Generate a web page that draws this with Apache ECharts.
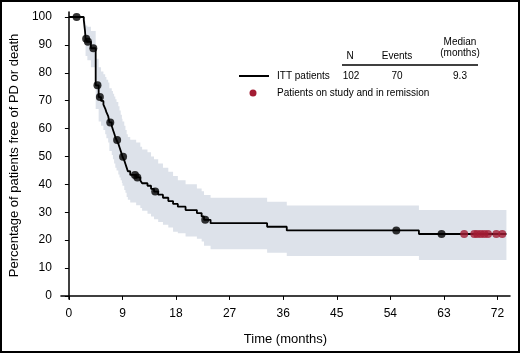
<!DOCTYPE html>
<html>
<head>
<meta charset="utf-8">
<script src="https://cdn.jsdelivr.net/npm/echarts@6/dist/echarts.min.js"></script>
<style>
  html, body { margin: 0; padding: 0; background: #fff; }
</style>
</head>
<body>
<div id="myChart1" style="width: 520px; height: 353px;"></div>
<script>
// Kaplan-Meier step points (months, % free of PD or death)
const months = [0, 2.5, 2.7, 2.8, 3.1, 3.7, 4.5, 5.0, 5.4, 5.8, 6.1, 6.3, 6.6, 6.8, 7.2, 7.4, 7.6, 7.8, 8.0, 8.3, 8.5, 8.7, 8.9, 9.0, 9.3, 9.5, 9.7, 9.9, 10.3, 11.3, 12.0, 12.3, 13.2, 13.8, 14.3, 15.0, 15.8, 16.7, 17.5, 18.3, 19.6, 21.5, 22.3, 22.7, 23.8, 33.3, 36.6, 58.8, 73.5];
const survival = [100, 99.0, 95.1, 92.2, 91.1, 88.8, 75.5, 71.3, 69.9, 68.6, 67.2, 65.9, 64.5, 62.2, 60.9, 59.6, 58.3, 57.0, 55.9, 54.6, 53.3, 52.0, 50.7, 49.9, 48.6, 47.3, 46.0, 44.7, 43.4, 42.5, 41.4, 40.4, 39.5, 38.4, 37.4, 36.3, 35.2, 34.0, 33.0, 32.0, 30.8, 29.7, 28.5, 27.3, 26.1, 24.8, 23.5, 22.2, 22.2];
// 95% CI band
const lowerCI = [100, 96, 90, 86, 84.5, 82, 67, 62.5, 61, 59.5, 58, 56.5, 55, 52, 50.5, 49, 47.5, 46, 45, 43.5, 42.5, 41.5, 40.5, 39.5, 38, 37, 35.5, 34.5, 33.5, 32.5, 31.5, 30.5, 29.5, 28.5, 27.5, 26.5, 25.5, 24.5, 23, 22.5, 21.3, 20.5, 19.5, 18, 16.7, 15.5, 14.3, 12.9, 12.9];
const upperCI = [100, 100, 98.5, 97, 96.5, 95, 85, 82, 80.5, 79.5, 78.5, 77.5, 76.5, 74.5, 73.5, 72.5, 71.5, 70.5, 69.5, 68, 66.5, 65, 63.5, 62.5, 61, 59.5, 58, 57, 56, 55, 53.5, 52.5, 51.5, 50, 49, 47.5, 46, 44.5, 43, 41.5, 40, 38.5, 37.5, 36.2, 35.2, 33.8, 32.4, 30.8, 30.8];
// censored patients
const censorMonths = [1.3, 2.9, 3.2, 4.1, 4.8, 5.2, 6.95, 8.1, 9.1, 11.1, 11.5, 14.5, 22.9, 55.0, 62.6];
const censorSurv = [100, 92.2, 91.1, 88.8, 75.5, 71.3, 62.2, 55.9, 49.9, 43.4, 42.5, 37.4, 27.3, 23.5, 22.2];
// patients on study and in remission
const remissionMonths = [66.4, 68.1, 68.6, 69.2, 69.8, 70.4, 71.8, 72.8];
const remissionSurv = [22.2, 22.2, 22.2, 22.2, 22.2, 22.2, 22.2, 22.2];
// ticks
const xTicks = [0, 9, 18, 27, 36, 45, 54, 63, 72];
const yTicks = [0, 10, 20, 30, 40, 50, 60, 70, 80, 90, 100];

const kmData = months.map((m, i) => [m, survival[i]]);
const bandData = months.map((m, i) => [m, lowerCI[i], upperCI[i]]);
const censorData = censorMonths.map((m, i) => [m, censorSurv[i]]);
const remissionData = remissionMonths.map((m, i) => [m, remissionSurv[i]]);

const font = "Liberation Sans, Arial, sans-serif";

// step polygon for the CI band, drawn once through the axis scales
function renderBand(params, api) {
  if (params.dataIndex !== 0) return;
  const top = [];
  const bottom = [];
  for (let i = 0; i < bandData.length; i++) {
    const t0 = bandData[i][0];
    const t1 = i < bandData.length - 1 ? bandData[i + 1][0] : t0;
    top.push(api.coord([t0, bandData[i][2]]), api.coord([t1, bandData[i][2]]));
    bottom.push(api.coord([t0, bandData[i][1]]), api.coord([t1, bandData[i][1]]));
  }
  return {
    type: "polygon",
    shape: { points: top.concat(bottom.reverse()) },
    style: { fill: "#dde2ea" },
    silent: true
  };
}

const myChart = echarts.init(document.getElementById("myChart1"));
const option = {
  animation: false,
  grid: {
    left: 58,
    right: 10,
    top: 12,
    bottom: 54
  },
  xAxis: {
    type: "value",
    min: -1.34,
    max: 74.1,
    name: "Time (months)",
    nameLocation: "middle",
    nameGap: 34,
    nameTextStyle: { fontFamily: font, fontSize: 13, color: "#000" },
    axisLine: { lineStyle: { color: "#000", width: 1.5 } },
    axisTick: { customValues: xTicks, length: 4, lineStyle: { color: "#000" } },
    axisLabel: { customValues: xTicks, margin: 9, fontFamily: font, fontSize: 12, color: "#000" },
    splitLine: { show: false }
  },
  yAxis: {
    type: "value",
    min: -1.1,
    max: 101.8,
    name: "Percentage of patients free of PD or death",
    nameLocation: "middle",
    nameGap: 31,
    nameTextStyle: { fontFamily: font, fontSize: 13, color: "#000" },
    axisLine: { show: true, lineStyle: { color: "#000", width: 1.5 } },
    axisTick: { show: true, customValues: yTicks, length: 4, lineStyle: { color: "#000" } },
    axisLabel: { customValues: yTicks, margin: 9, fontFamily: font, fontSize: 12, color: "#000" },
    splitLine: { show: false }
  },
  series: [
    {
      // 95% CI band
      type: "custom",
      data: bandData,
      renderItem: renderBand,
      silent: true,
      z: 1
    },
    {
      name: "ITT patients",
      type: "line",
      data: kmData,
      step: "end",
      showSymbol: false,
      lineStyle: { color: "#000", width: 1.8 },
      z: 2
    },
    {
      type: "scatter",
      data: censorData,
      symbolSize: 8,
      itemStyle: { color: "#000" },
      z: 3
    },
    {
      name: "Patients on study and in remission",
      type: "scatter",
      data: remissionData,
      symbolSize: 8,
      itemStyle: { color: "#a31c33" },
      z: 3
    }
  ],
  graphic: [
    // outer frame
    { type: "rect", shape: { x: 1, y: 1, width: 518, height: 351 }, style: { fill: null, stroke: "#000", lineWidth: 2 } },
    // legend table
    { type: "text", x: 460, y: 42, style: { text: "Median", fontFamily: font, fontSize: 10, fill: "#000", align: "center", verticalAlign: "middle" } },
    { type: "text", x: 460, y: 53, style: { text: "(months)", fontFamily: font, fontSize: 10, fill: "#000", align: "center", verticalAlign: "middle" } },
    { type: "text", x: 350, y: 56, style: { text: "N", fontFamily: font, fontSize: 10, fill: "#000", align: "center", verticalAlign: "middle" } },
    { type: "text", x: 397, y: 56, style: { text: "Events", fontFamily: font, fontSize: 10, fill: "#000", align: "center", verticalAlign: "middle" } },
    { type: "line", shape: { x1: 342, y1: 65, x2: 478, y2: 65 }, style: { stroke: "#000", lineWidth: 1.5 } },
    { type: "line", shape: { x1: 239, y1: 76, x2: 269, y2: 76 }, style: { stroke: "#000", lineWidth: 2 } },
    { type: "text", x: 277, y: 76, style: { text: "ITT patients", fontFamily: font, fontSize: 10, fill: "#000", align: "left", verticalAlign: "middle" } },
    { type: "text", x: 351, y: 76, style: { text: "102", fontFamily: font, fontSize: 10, fill: "#000", align: "center", verticalAlign: "middle" } },
    { type: "text", x: 397, y: 76, style: { text: "70", fontFamily: font, fontSize: 10, fill: "#000", align: "center", verticalAlign: "middle" } },
    { type: "text", x: 460, y: 76, style: { text: "9.3", fontFamily: font, fontSize: 10, fill: "#000", align: "center", verticalAlign: "middle" } },
    { type: "circle", shape: { cx: 253, cy: 93, r: 3.5 }, style: { fill: "#a31c33" } },
    { type: "text", x: 277, y: 93, style: { text: "Patients on study and in remission", fontFamily: font, fontSize: 10, fill: "#000", align: "left", verticalAlign: "middle" } }
  ]
};
myChart.setOption(option);
</script>
</body>
</html>
